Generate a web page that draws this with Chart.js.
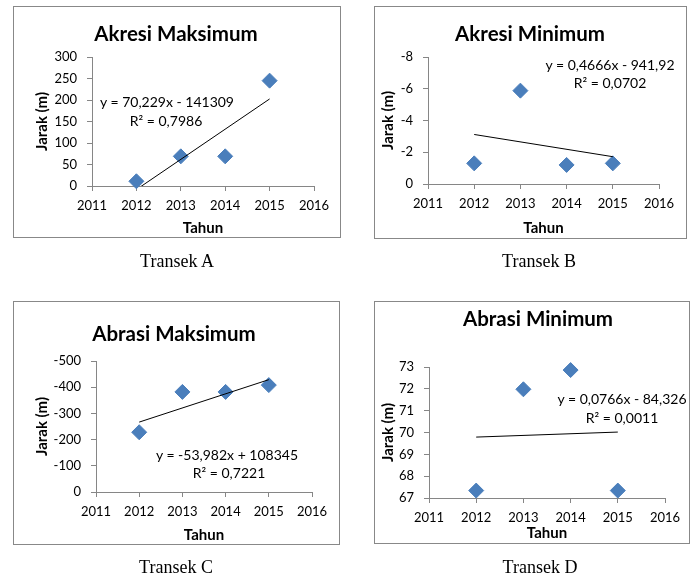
<!DOCTYPE html>
<html><head><meta charset="utf-8">
<script src="https://cdn.jsdelivr.net/npm/chart.js@4/dist/chart.umd.min.js"></script>
<style>
body{margin:0;background:#fff;width:692px;height:575px;position:relative;overflow:hidden;font-family:Lato,sans-serif;}
.box{position:absolute;box-sizing:border-box;border:1px solid #888;pointer-events:none;}
canvas{position:absolute;}
.t{position:absolute;transform:translate(-50%,-50%);white-space:nowrap;color:#000;line-height:1;}
.title{font-family:Lato;font-weight:bold;font-size:20.5px;}
.eq{font-family:Lato;font-size:14px;}
.cap{font-family:"Liberation Serif";font-size:18px;}
</style></head><body>
<script>
// ---- data ----
const years = [2012, 2013, 2014, 2015];
const xTicks = [2011, 2016];
const akresiMaks = [11, 69, 69, 245];
const akresiMin = [-1.3, -5.88, -1.2, -1.3];
const abrasiMaks = [-228, -382, -382, -408];
const abrasiMin = [67.34, 71.98, 72.86, 67.34];
const trendYears = [2012, 2015];
const trendAkresiMaks = [-8.3, 202.4];
const trendAkresiMin = [-3.12, -1.72];
const trendAbrasiMaks = [-266.8, -428.7];
const trendAbrasiMin = [69.79, 70.02];
const titles = ['Akresi Maksimum', 'Akresi Minimum', 'Abrasi Maksimum', 'Abrasi Minimum'];
const equations = [
  ['y = 70,229x - 141309', 'R² = 0,7986'],
  ['y = 0,4666x - 941,92', 'R² = 0,0702'],
  ['y = -53,982x + 108345', 'R² = 0,7221'],
  ['y = 0,0766x - 84,326', 'R² = 0,0011']
];
const captions = ['Transek A', 'Transek B', 'Transek C', 'Transek D'];
const yRanges = [[0, 300, 50], [-8, 0, 2], [-500, 0, 100], [67, 73, 1]];
const yReverse = [false, true, true, false];
const xLabel = 'Tahun';
const yLabel = 'Jarak (m)';

// ---- layout (page px) ----
const layouts = [
  {box:{l:13,t:6,r:341,b:238}, plot:{l:92,t:57,r:314,b:186}, yTitlePad:19.7, xTitlePad:1,
   title:[176,33], eq:[[167,102],[166,121]], cap:[177,261]},
  {box:{l:374,t:6,r:687,b:239}, plot:{l:428,t:57,r:659,b:184}, yTitlePad:5, xTitlePad:2,
   title:[530,33], eq:[[610,65],[610,83]], cap:[539,261]},
  {box:{l:13,t:301,r:340,b:545}, plot:{l:96,t:361,r:312,b:492}, yTitlePad:20, xTitlePad:1,
   title:[174,333], eq:[[227,455],[229,473]], cap:[176,567]},
  {box:{l:374,t:301,r:690,b:544}, plot:{l:429,t:367,r:665,b:498}, yTitlePad:5, xTitlePad:2,
   title:[538,318], eq:[[622,399],[622,418]], cap:[540,567]}
];
const seriesList = [akresiMaks, akresiMin, abrasiMaks, abrasiMin];
const trendList = [trendAkresiMaks, trendAkresiMin, trendAbrasiMaks, trendAbrasiMin];

function addText(cls, txt, x, y){
  const d = document.createElement('div');
  d.className = 't ' + cls; d.textContent = txt;
  d.style.left = x + 'px'; d.style.top = y + 'px';
  document.body.appendChild(d);
}

const tickFont = {family:'Lato', size:13};
const axisTitleFont = {family:'Lato', size:15, weight:'bold'};
const gridGray = '#868686';

layouts.forEach((L, k) => {
  const W = L.box.r - L.box.l, H = L.box.b - L.box.t;
  const c = document.createElement('canvas');
  c.width = W; c.height = H;
  c.style.left = L.box.l + 'px'; c.style.top = L.box.t + 'px';
  c.style.width = W + 'px'; c.style.height = H + 'px';
  document.body.appendChild(c);
  const b = document.createElement('div');
  b.className = 'box';
  b.style.left = L.box.l + 'px'; b.style.top = L.box.t + 'px';
  b.style.width = W + 'px'; b.style.height = H + 'px';
  document.body.appendChild(b);

  const pl = L.plot.l - L.box.l, pt = L.plot.t - L.box.t;
  const pr = L.box.r - L.plot.r, pb = L.box.b - L.plot.b;
  const vals = seriesList[k], tr = trendList[k], yr = yRanges[k];

  new Chart(c, {
    type: 'scatter',
    data: {datasets: [
      {data: trendYears.map((x, i) => ({x, y: tr[i]})), showLine: true, borderColor: '#000', borderWidth: 1,
       pointRadius: 0, fill: false, order: 0},
      {data: years.map((x, i) => ({x, y: vals[i]})), pointStyle: 'rectRot', pointRadius: 7.5,
       backgroundColor: '#4A7EBB', borderColor: '#4A7EBB', borderWidth: 1, clip: false, order: 1}
    ]},
    options: {
      responsive: false, animation: false, devicePixelRatio: 1,
      layout: {padding: {top: pt, right: pr, bottom: 0, left: 0}},
      plugins: {legend: {display: false}, tooltip: {enabled: false}, title: {display: false}},
      scales: {
        x: {type: 'linear', min: xTicks[0], max: xTicks[1],
            ticks: {stepSize: 1, callback: v => String(v), font: tickFont, color: '#000', padding: 7.5, maxRotation: 0, autoSkip: false},
            grid: {drawOnChartArea: false, drawTicks: true, tickLength: 5, color: gridGray},
            border: {display: true, color: gridGray, width: 1},
            title: {display: true, text: xLabel, font: axisTitleFont, color: '#000', padding: {top: 0, bottom: L.xTitlePad}},
            afterFit: s => { s.height = pb; }},
        y: {type: 'linear', min: yr[0], max: yr[1], reverse: yReverse[k],
            ticks: {stepSize: yr[2], callback: v => String(v), font: tickFont, color: '#000', padding: 10},
            grid: {drawOnChartArea: false, drawTicks: true, tickLength: 5, color: gridGray},
            border: {display: true, color: gridGray, width: 1},
            title: {display: true, text: yLabel, font: axisTitleFont, color: '#000', padding: {top: L.yTitlePad, bottom: 0}},
            afterFit: s => { s.width = pl; }}
      }
    }
  });

  addText('title', titles[k], L.title[0], L.title[1]);
  addText('eq', equations[k][0], L.eq[0][0], L.eq[0][1]);
  addText('eq', equations[k][1], L.eq[1][0], L.eq[1][1]);
  addText('cap', captions[k], L.cap[0], L.cap[1]);
});
</script>
</body></html>
